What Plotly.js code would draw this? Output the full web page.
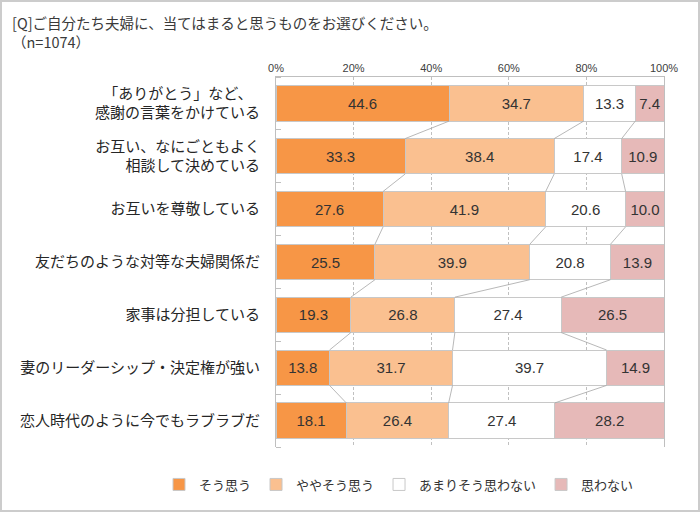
<!DOCTYPE html>
<html>
<head>
<meta charset="utf-8">
<script src="https://cdn.plot.ly/plotly-3.0.1.min.js"></script>
<style>
  html, body { margin: 0; padding: 0; background: #fff; }
  #wrap { position: relative; width: 700px; height: 512px; }
  #chart { width: 700px; height: 512px; }
  #frame { position: absolute; left: 0; top: 0; width: 700px; height: 512px; box-sizing: border-box; border: 2px solid #cccccc; pointer-events: none; }
</style>
</head>
<body>
<div id="wrap"><div id="chart"></div><div id="frame"></div></div>
<script>
// ---- data ----
const categories = [
  "「ありがとう」など、\u3000<br>感謝の言葉をかけている",
  "お互い、なにごともよく<br>相談して決めている",
  "お互いを尊敬している",
  "友だちのような対等な夫婦関係だ",
  "家事は分担している",
  "妻のリーダーシップ・決定権が強い",
  "恋人時代のように今でもラブラブだ"
];
const seriesNames = ["そう思う", "ややそう思う", "あまりそう思わない", "思わない"];
const soOmou      = [44.6, 33.3, 27.6, 25.5, 19.3, 13.8, 18.1];
const yayaSoOmou  = [34.7, 38.4, 41.9, 39.9, 26.8, 31.7, 26.4];
const amariOmowanai = [13.3, 17.4, 20.6, 20.8, 27.4, 39.7, 27.4];
const omowanai    = [7.4, 10.9, 10.0, 13.9, 26.5, 14.9, 28.2];
const xTickVals = [0, 20, 40, 60, 80, 100];
const xTickText = ["0%", "20%", "40%", "60%", "80%", "100%"];
const titleText = "[Q]ご自分たち夫婦に、当てはまると思うものをお選びください。<br>（n=1074）";

// ---- styling ----
const colors = ["#F79646", "#FAC090", "#FFFFFF", "#E6B9B8"];
const series = [soOmou, yayaSoOmou, amariOmowanai, omowanai];
const bargap = 0.33;
const W = 1 - bargap;
const yPos = categories.map((c, i) => i);

const traces = [];

// series (connector) lines between boundaries of consecutive bars
const cum = [];
let run = categories.map(() => 0);
for (let k = 0; k < series.length - 1; k++) {
  run = run.map((v, i) => v + series[k][i]);
  cum.push(run.slice());
}
cum.forEach(c => {
  const xs = [], ys = [];
  for (let i = 0; i < c.length - 1; i++) {
    xs.push(c[i], c[i + 1], null);
    ys.push(yPos[i] + W / 2, yPos[i + 1] - W / 2, null);
  }
  traces.push({
    type: "scatter", mode: "lines", x: xs, y: ys,
    line: { color: "#a6a6a6", width: 0.8 },
    showlegend: false, hoverinfo: "skip"
  });
});

series.forEach((vals, k) => {
  traces.push({
    type: "bar", orientation: "h",
    name: seriesNames[k],
    x: vals, y: yPos,
    marker: { color: colors[k], line: { color: "#c8c8c8", width: 1 } },
    text: vals.map(v => v.toFixed(1)),
    textposition: "inside",
    insidetextanchor: "middle",
    textangle: 0,
    constraintext: "none",
    textfont: { family: "Liberation Sans Narrow, Arial Narrow, Liberation Sans, sans-serif", size: 15, color: "#333333" },
    hoverinfo: "x+name"
  });
});

const layout = {
  width: 700, height: 512,
  paper_bgcolor: "#ffffff", plot_bgcolor: "#ffffff",
  margin: { l: 276, r: 36, t: 77, b: 60 },
  barmode: "stack",
  bargap: bargap,
  font: { family: "Noto Sans CJK JP, sans-serif", color: "#333333" },
  title: {
    text: titleText,
    xref: "container", yref: "container",
    x: 12 / 700, xanchor: "left",
    y: 1 - 29 / 512, yanchor: "top",
    font: { family: "Noto Sans CJK JP, sans-serif", size: 14.5, color: "#3a3a3a" }
  },
  xaxis: {
    side: "top",
    range: [0, 100],
    tickmode: "array",
    tickvals: xTickVals,
    ticktext: xTickText,
    ticks: "",
    tickfont: { family: "Liberation Sans Narrow, Arial Narrow, sans-serif", size: 11, color: "#404040" },
    showline: true, linecolor: "#bfbfbf", linewidth: 1,
    showgrid: true, gridcolor: "#c0c0c0", gridwidth: 1, griddash: "3px,2px",
    zeroline: false,
    fixedrange: true
  },
  yaxis: {
    range: [categories.length - 0.5, -0.5],
    tickmode: "array",
    tickvals: yPos,
    ticktext: categories,
    ticks: "",
    ticklabelstandoff: 12,
    tickfont: { family: "Noto Sans CJK JP, sans-serif", size: 15, color: "#262626" },
    showline: true, mirror: true, linecolor: "#bfbfbf", linewidth: 1,
    showgrid: false, zeroline: false,
    minor: {
      tickmode: "array",
      tickvals: categories.map((c, i) => i - 0.5).concat([categories.length - 0.5]),
      ticks: "inside", ticklen: 5, tickcolor: "#bfbfbf", tickwidth: 1,
      showgrid: false
    },
    fixedrange: true
  },
  legend: {
    orientation: "h",
    x: (159 - 276) / 388, xanchor: "left",
    y: -(490 - 452) / 375, yanchor: "middle",
    font: { family: "Noto Sans CJK JP, sans-serif", size: 13, color: "#333333" },
    traceorder: "normal",
    itemwidth: 30
  },
  showlegend: true
};

Plotly.newPlot("chart", traces, layout, { displayModeBar: false, staticPlot: true });
</script>
</body>
</html>
